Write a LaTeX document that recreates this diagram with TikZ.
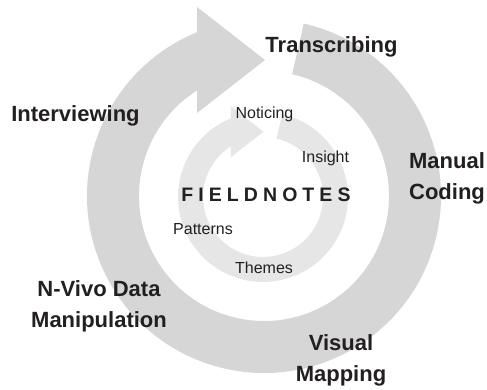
\documentclass[tikz,border=0pt]{standalone}
\usepackage{fontspec}
\setmainfont{Liberation Sans}

\definecolor{ringgrey}{HTML}{D6D6D6}
\definecolor{innergrey}{HTML}{E6E6E6}
\definecolor{ink}{HTML}{231F20}

\tikzset{
  % ring with a flat tail and a horizontal head, centred on the pic origin
  cycle arrow/.pic={
    \path[pic actions] (77:177) arc[start angle=77, end angle=-247.75, radius=177]
      -- (-67,189) -- (1,136) -- (-67,83)
      -- (-237.6:125) arc[start angle=-237.6, end angle=77, radius=125] -- cycle;
  },
  stage/.style={font=\fontsize{22}{31}\selectfont\bfseries, align=center},
  step label/.style={font=\fontsize{16}{19}\selectfont}
}

\begin{document}
\begin{tikzpicture}[x=1pt, y=1pt, every node/.style={text=ink, inner sep=0pt, anchor=base}]
    \useasboundingbox (0,0) rectangle (487,390);

    % Rings
    \pic[fill=ringgrey] (outer) at (264,194) {cycle arrow};
    \pic[fill=innergrey, scale=0.48] (inner) at (263,193) {cycle arrow};

    % Outer stages (base = last line)
    \node[stage] (transcribing) at (331.5,337) {Transcribing};
    \node[stage] (interviewing) at (75.5,268) {Interviewing};
    \node[stage] (coding) at (447,190) {Manual\\Coding};
    \node[stage] (nvivo) at (99,62) {N-Vivo Data\\Manipulation};
    \node[stage] (mapping) at (341,8) {Visual\\Mapping};

    % Inner cycle
    \node[font=\fontsize{19.5}{22}\selectfont\bfseries\addfontfeature{LetterSpace=26}]
        (fieldnotes) at (266,188) {FIELDNOTES};
    \node[step label] (noticing) at (264.5,271) {Noticing};
    \node[step label] (insight) at (325.5,227) {Insight};
    \node[step label] (patterns) at (203,155) {Patterns};
    \node[step label] (themes) at (264,116) {Themes};

\end{tikzpicture}
\end{document}
